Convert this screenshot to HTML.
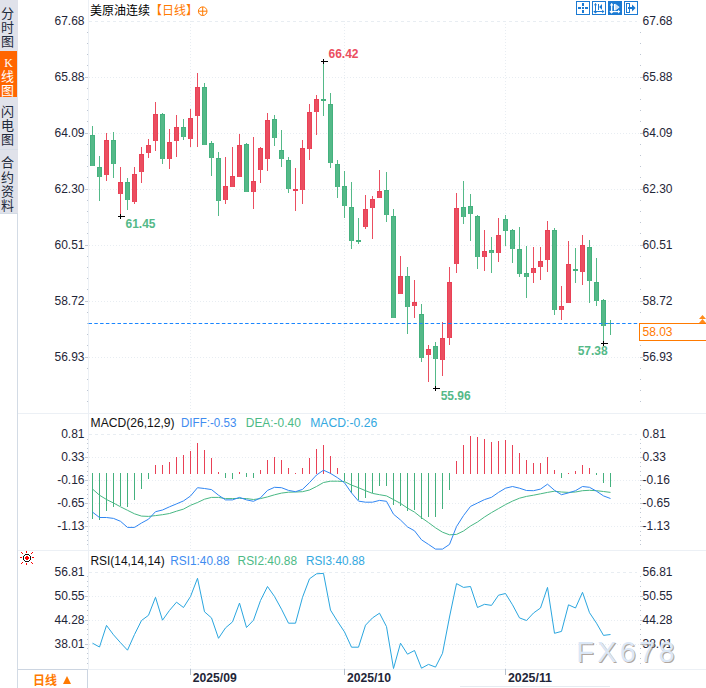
<!DOCTYPE html>
<html lang="zh-CN"><head><meta charset="utf-8"><title>美原油连续 日线</title>
<style>
html,body{margin:0;padding:0;background:#fff;}
body{width:706px;height:688px;position:relative;overflow:hidden;font-family:"Liberation Sans","Noto Sans CJK SC",sans-serif;font-size:12px;}
#side{position:absolute;left:0;top:0;width:18px;height:213px;background:#e0e2ea;border-bottom:1px solid #d3dbe5;}
#side .act{position:absolute;left:0;top:51px;width:17px;height:46px;background:#ff6600;}
#side .dv{position:absolute;left:0;width:18px;height:1px;background:#d6dde6;}
.sc{position:absolute;left:-1px;width:17px;height:14px;line-height:14px;text-align:center;font-size:13px;font-family:"Liberation Sans","Noto Sans CJK SC",sans-serif;}
.sf{font-family:"Liberation Serif","Noto Serif CJK SC",serif;font-size:12px;left:0;}
#title{position:absolute;left:90px;top:2px;height:18px;line-height:18px;font-size:12px;color:#000;white-space:nowrap;}
#title b{font-weight:normal;color:#ff7a00;}
#period{position:absolute;left:18px;top:670px;width:69px;height:18px;line-height:19px;font-size:12px;font-weight:bold;color:#ff7a00;white-space:nowrap;}
#period span{position:absolute;left:15px;top:2px;}
#period i{position:absolute;left:44.5px;top:5.7px;width:0;height:0;border-left:4.2px solid transparent;border-right:4.2px solid transparent;border-bottom:8px solid #ff7a00;}
</style></head><body>
<svg width="706" height="688" viewBox="0 0 706 688" style="position:absolute;left:0;top:0" font-family="'Liberation Sans', sans-serif" font-size="12">
<g shape-rendering="crispEdges">
<rect x="18" y="413" width="688" height="1" fill="#ecf0f5"/>
<rect x="18" y="550" width="688" height="1" fill="#ecf0f5"/>
<rect x="18" y="669" width="688" height="1" fill="#ecf0f5"/>
<rect x="17" y="213" width="1" height="475" fill="#d3dbe5"/>
<rect x="88" y="0" width="1" height="669" fill="#ecf0f5"/>
<rect x="18" y="669" width="70" height="1" fill="#ccd5e1"/>
<rect x="87" y="669" width="1" height="19" fill="#ccd5e1"/>
<rect x="460" y="686" width="150" height="1" fill="#e6ebf1"/>
</g>
<g stroke="#e8edf2" stroke-width="1" fill="none" shape-rendering="crispEdges">
<line x1="89" y1="21.5" x2="637" y2="21.5" stroke-dasharray="3 3"/>
<line x1="89" y1="434.5" x2="637" y2="434.5" stroke-dasharray="3 3"/>
<line x1="89" y1="572.5" x2="637" y2="572.5" stroke-dasharray="3 3"/>
<line x1="89" y1="77.5" x2="640" y2="77.5" stroke-dasharray="1 2"/>
<line x1="89" y1="133.5" x2="640" y2="133.5" stroke-dasharray="1 2"/>
<line x1="89" y1="189.5" x2="640" y2="189.5" stroke-dasharray="1 2"/>
<line x1="89" y1="245.5" x2="640" y2="245.5" stroke-dasharray="1 2"/>
<line x1="89" y1="301.5" x2="640" y2="301.5" stroke-dasharray="1 2"/>
<line x1="89" y1="357.5" x2="640" y2="357.5" stroke-dasharray="1 2"/>
<line x1="89" y1="457.5" x2="640" y2="457.5" stroke-dasharray="1 2"/>
<line x1="89" y1="480.5" x2="640" y2="480.5" stroke-dasharray="1 2"/>
<line x1="89" y1="503.5" x2="640" y2="503.5" stroke-dasharray="1 2"/>
<line x1="89" y1="526.5" x2="640" y2="526.5" stroke-dasharray="1 2"/>
<line x1="89" y1="596.5" x2="640" y2="596.5" stroke-dasharray="1 2"/>
<line x1="89" y1="620.5" x2="640" y2="620.5" stroke-dasharray="1 2"/>
<line x1="89" y1="644.5" x2="640" y2="644.5" stroke-dasharray="1 2"/>
<line x1="190.5" y1="21" x2="190.5" y2="413" stroke-dasharray="1 2"/>
<line x1="190.5" y1="434" x2="190.5" y2="550" stroke-dasharray="1 2"/>
<line x1="190.5" y1="572" x2="190.5" y2="669" stroke-dasharray="1 2"/>
<line x1="344.5" y1="21" x2="344.5" y2="413" stroke-dasharray="1 2"/>
<line x1="344.5" y1="434" x2="344.5" y2="550" stroke-dasharray="1 2"/>
<line x1="344.5" y1="572" x2="344.5" y2="669" stroke-dasharray="1 2"/>
<line x1="505.5" y1="21" x2="505.5" y2="413" stroke-dasharray="1 2"/>
<line x1="505.5" y1="434" x2="505.5" y2="550" stroke-dasharray="1 2"/>
<line x1="505.5" y1="572" x2="505.5" y2="669" stroke-dasharray="1 2"/>
</g>
<g fill="#bec6d2" shape-rendering="crispEdges">
<rect x="87" y="32" width="1" height="1"/>
<rect x="640" y="32" width="1" height="1"/>
<rect x="87" y="43" width="1" height="1"/>
<rect x="640" y="43" width="1" height="1"/>
<rect x="87" y="54" width="1" height="1"/>
<rect x="640" y="54" width="1" height="1"/>
<rect x="87" y="65" width="1" height="1"/>
<rect x="640" y="65" width="1" height="1"/>
<rect x="87" y="77" width="1" height="1"/>
<rect x="640" y="77" width="1" height="1"/>
<rect x="87" y="88" width="1" height="1"/>
<rect x="640" y="88" width="1" height="1"/>
<rect x="87" y="99" width="1" height="1"/>
<rect x="640" y="99" width="1" height="1"/>
<rect x="87" y="110" width="1" height="1"/>
<rect x="640" y="110" width="1" height="1"/>
<rect x="87" y="121" width="1" height="1"/>
<rect x="640" y="121" width="1" height="1"/>
<rect x="87" y="133" width="1" height="1"/>
<rect x="640" y="133" width="1" height="1"/>
<rect x="87" y="144" width="1" height="1"/>
<rect x="640" y="144" width="1" height="1"/>
<rect x="87" y="155" width="1" height="1"/>
<rect x="640" y="155" width="1" height="1"/>
<rect x="87" y="166" width="1" height="1"/>
<rect x="640" y="166" width="1" height="1"/>
<rect x="87" y="177" width="1" height="1"/>
<rect x="640" y="177" width="1" height="1"/>
<rect x="87" y="189" width="1" height="1"/>
<rect x="640" y="189" width="1" height="1"/>
<rect x="87" y="200" width="1" height="1"/>
<rect x="640" y="200" width="1" height="1"/>
<rect x="87" y="211" width="1" height="1"/>
<rect x="640" y="211" width="1" height="1"/>
<rect x="87" y="222" width="1" height="1"/>
<rect x="640" y="222" width="1" height="1"/>
<rect x="87" y="233" width="1" height="1"/>
<rect x="640" y="233" width="1" height="1"/>
<rect x="87" y="245" width="1" height="1"/>
<rect x="640" y="245" width="1" height="1"/>
<rect x="87" y="256" width="1" height="1"/>
<rect x="640" y="256" width="1" height="1"/>
<rect x="87" y="267" width="1" height="1"/>
<rect x="640" y="267" width="1" height="1"/>
<rect x="87" y="278" width="1" height="1"/>
<rect x="640" y="278" width="1" height="1"/>
<rect x="87" y="289" width="1" height="1"/>
<rect x="640" y="289" width="1" height="1"/>
<rect x="87" y="301" width="1" height="1"/>
<rect x="640" y="301" width="1" height="1"/>
<rect x="87" y="312" width="1" height="1"/>
<rect x="640" y="312" width="1" height="1"/>
<rect x="87" y="323" width="1" height="1"/>
<rect x="640" y="323" width="1" height="1"/>
<rect x="87" y="334" width="1" height="1"/>
<rect x="640" y="334" width="1" height="1"/>
<rect x="87" y="345" width="1" height="1"/>
<rect x="640" y="345" width="1" height="1"/>
<rect x="87" y="357" width="1" height="1"/>
<rect x="640" y="357" width="1" height="1"/>
<rect x="87" y="368" width="1" height="1"/>
<rect x="640" y="368" width="1" height="1"/>
<rect x="87" y="379" width="1" height="1"/>
<rect x="640" y="379" width="1" height="1"/>
<rect x="87" y="390" width="1" height="1"/>
<rect x="640" y="390" width="1" height="1"/>
<rect x="87" y="401" width="1" height="1"/>
<rect x="640" y="401" width="1" height="1"/>
<rect x="87" y="439" width="1" height="1"/>
<rect x="640" y="439" width="1" height="1"/>
<rect x="87" y="443" width="1" height="1"/>
<rect x="640" y="443" width="1" height="1"/>
<rect x="87" y="448" width="1" height="1"/>
<rect x="640" y="448" width="1" height="1"/>
<rect x="87" y="452" width="1" height="1"/>
<rect x="640" y="452" width="1" height="1"/>
<rect x="87" y="457" width="1" height="1"/>
<rect x="640" y="457" width="1" height="1"/>
<rect x="87" y="462" width="1" height="1"/>
<rect x="640" y="462" width="1" height="1"/>
<rect x="87" y="466" width="1" height="1"/>
<rect x="640" y="466" width="1" height="1"/>
<rect x="87" y="471" width="1" height="1"/>
<rect x="640" y="471" width="1" height="1"/>
<rect x="87" y="475" width="1" height="1"/>
<rect x="640" y="475" width="1" height="1"/>
<rect x="87" y="480" width="1" height="1"/>
<rect x="640" y="480" width="1" height="1"/>
<rect x="87" y="485" width="1" height="1"/>
<rect x="640" y="485" width="1" height="1"/>
<rect x="87" y="489" width="1" height="1"/>
<rect x="640" y="489" width="1" height="1"/>
<rect x="87" y="494" width="1" height="1"/>
<rect x="640" y="494" width="1" height="1"/>
<rect x="87" y="498" width="1" height="1"/>
<rect x="640" y="498" width="1" height="1"/>
<rect x="87" y="503" width="1" height="1"/>
<rect x="640" y="503" width="1" height="1"/>
<rect x="87" y="508" width="1" height="1"/>
<rect x="640" y="508" width="1" height="1"/>
<rect x="87" y="512" width="1" height="1"/>
<rect x="640" y="512" width="1" height="1"/>
<rect x="87" y="517" width="1" height="1"/>
<rect x="640" y="517" width="1" height="1"/>
<rect x="87" y="521" width="1" height="1"/>
<rect x="640" y="521" width="1" height="1"/>
<rect x="87" y="526" width="1" height="1"/>
<rect x="640" y="526" width="1" height="1"/>
<rect x="87" y="531" width="1" height="1"/>
<rect x="640" y="531" width="1" height="1"/>
<rect x="87" y="535" width="1" height="1"/>
<rect x="640" y="535" width="1" height="1"/>
<rect x="87" y="540" width="1" height="1"/>
<rect x="640" y="540" width="1" height="1"/>
<rect x="87" y="544" width="1" height="1"/>
<rect x="640" y="544" width="1" height="1"/>
<rect x="87" y="576" width="1" height="1"/>
<rect x="640" y="576" width="1" height="1"/>
<rect x="87" y="581" width="1" height="1"/>
<rect x="640" y="581" width="1" height="1"/>
<rect x="87" y="586" width="1" height="1"/>
<rect x="640" y="586" width="1" height="1"/>
<rect x="87" y="591" width="1" height="1"/>
<rect x="640" y="591" width="1" height="1"/>
<rect x="87" y="596" width="1" height="1"/>
<rect x="640" y="596" width="1" height="1"/>
<rect x="87" y="600" width="1" height="1"/>
<rect x="640" y="600" width="1" height="1"/>
<rect x="87" y="605" width="1" height="1"/>
<rect x="640" y="605" width="1" height="1"/>
<rect x="87" y="610" width="1" height="1"/>
<rect x="640" y="610" width="1" height="1"/>
<rect x="87" y="615" width="1" height="1"/>
<rect x="640" y="615" width="1" height="1"/>
<rect x="87" y="620" width="1" height="1"/>
<rect x="640" y="620" width="1" height="1"/>
<rect x="87" y="624" width="1" height="1"/>
<rect x="640" y="624" width="1" height="1"/>
<rect x="87" y="629" width="1" height="1"/>
<rect x="640" y="629" width="1" height="1"/>
<rect x="87" y="634" width="1" height="1"/>
<rect x="640" y="634" width="1" height="1"/>
<rect x="87" y="639" width="1" height="1"/>
<rect x="640" y="639" width="1" height="1"/>
<rect x="87" y="644" width="1" height="1"/>
<rect x="640" y="644" width="1" height="1"/>
<rect x="87" y="648" width="1" height="1"/>
<rect x="640" y="648" width="1" height="1"/>
<rect x="87" y="653" width="1" height="1"/>
<rect x="640" y="653" width="1" height="1"/>
<rect x="87" y="658" width="1" height="1"/>
<rect x="640" y="658" width="1" height="1"/>
<rect x="87" y="663" width="1" height="1"/>
<rect x="640" y="663" width="1" height="1"/>
<rect x="85" y="77" width="3" height="1" fill="#c4cad4"/>
<rect x="640" y="77" width="3" height="1" fill="#c4cad4"/>
<rect x="85" y="133" width="3" height="1" fill="#c4cad4"/>
<rect x="640" y="133" width="3" height="1" fill="#c4cad4"/>
<rect x="85" y="189" width="3" height="1" fill="#c4cad4"/>
<rect x="640" y="189" width="3" height="1" fill="#c4cad4"/>
<rect x="85" y="245" width="3" height="1" fill="#c4cad4"/>
<rect x="640" y="245" width="3" height="1" fill="#c4cad4"/>
<rect x="85" y="301" width="3" height="1" fill="#c4cad4"/>
<rect x="640" y="301" width="3" height="1" fill="#c4cad4"/>
<rect x="85" y="357" width="3" height="1" fill="#c4cad4"/>
<rect x="640" y="357" width="3" height="1" fill="#c4cad4"/>
<rect x="85" y="457" width="3" height="1" fill="#c4cad4"/>
<rect x="640" y="457" width="3" height="1" fill="#c4cad4"/>
<rect x="85" y="480" width="3" height="1" fill="#c4cad4"/>
<rect x="640" y="480" width="3" height="1" fill="#c4cad4"/>
<rect x="85" y="503" width="3" height="1" fill="#c4cad4"/>
<rect x="640" y="503" width="3" height="1" fill="#c4cad4"/>
<rect x="85" y="526" width="3" height="1" fill="#c4cad4"/>
<rect x="640" y="526" width="3" height="1" fill="#c4cad4"/>
<rect x="85" y="596" width="3" height="1" fill="#c4cad4"/>
<rect x="640" y="596" width="3" height="1" fill="#c4cad4"/>
<rect x="85" y="620" width="3" height="1" fill="#c4cad4"/>
<rect x="640" y="620" width="3" height="1" fill="#c4cad4"/>
<rect x="85" y="644" width="3" height="1" fill="#c4cad4"/>
<rect x="640" y="644" width="3" height="1" fill="#c4cad4"/>
<rect x="190" y="669" width="1" height="6" fill="#b4bfcd"/>
<rect x="344" y="669" width="1" height="6" fill="#b4bfcd"/>
<rect x="505" y="669" width="1" height="6" fill="#b4bfcd"/>
</g>
<g shape-rendering="crispEdges">
<rect x="92" y="126" width="1" height="40" fill="#54b988"/>
<rect x="90" y="135" width="5" height="31" fill="#44b17e"/>
<rect x="91" y="136" width="3" height="30" fill="#54b988"/>
<rect x="99" y="156" width="1" height="45" fill="#54b988"/>
<rect x="97" y="167" width="5" height="10" fill="#44b17e"/>
<rect x="98" y="168" width="3" height="9" fill="#54b988"/>
<rect x="106" y="133" width="1" height="48" fill="#eb4e60"/>
<rect x="104" y="140" width="5" height="35" fill="#e94156"/>
<rect x="105" y="141" width="3" height="34" fill="#eb4e60"/>
<rect x="113" y="132" width="1" height="46" fill="#54b988"/>
<rect x="111" y="140" width="5" height="24" fill="#44b17e"/>
<rect x="112" y="141" width="3" height="23" fill="#54b988"/>
<rect x="120" y="167" width="1" height="49" fill="#eb4e60"/>
<rect x="118" y="182" width="5" height="12" fill="#e94156"/>
<rect x="119" y="183" width="3" height="11" fill="#eb4e60"/>
<rect x="127" y="178" width="1" height="32" fill="#54b988"/>
<rect x="125" y="182" width="5" height="18" fill="#44b17e"/>
<rect x="126" y="183" width="3" height="17" fill="#54b988"/>
<rect x="134" y="167" width="1" height="37" fill="#eb4e60"/>
<rect x="132" y="174" width="5" height="28" fill="#e94156"/>
<rect x="133" y="175" width="3" height="27" fill="#eb4e60"/>
<rect x="141" y="147" width="1" height="36" fill="#eb4e60"/>
<rect x="139" y="154" width="5" height="18" fill="#e94156"/>
<rect x="140" y="155" width="3" height="17" fill="#eb4e60"/>
<rect x="148" y="139" width="1" height="19" fill="#eb4e60"/>
<rect x="146" y="145" width="5" height="8" fill="#e94156"/>
<rect x="147" y="146" width="3" height="7" fill="#eb4e60"/>
<rect x="155" y="102" width="1" height="49" fill="#eb4e60"/>
<rect x="153" y="114" width="5" height="27" fill="#e94156"/>
<rect x="154" y="115" width="3" height="26" fill="#eb4e60"/>
<rect x="162" y="113" width="1" height="51" fill="#54b988"/>
<rect x="160" y="114" width="5" height="45" fill="#44b17e"/>
<rect x="161" y="115" width="3" height="44" fill="#54b988"/>
<rect x="169" y="129" width="1" height="40" fill="#eb4e60"/>
<rect x="167" y="142" width="5" height="17" fill="#e94156"/>
<rect x="168" y="143" width="3" height="16" fill="#eb4e60"/>
<rect x="176" y="115" width="1" height="42" fill="#eb4e60"/>
<rect x="174" y="127" width="5" height="14" fill="#e94156"/>
<rect x="175" y="128" width="3" height="13" fill="#eb4e60"/>
<rect x="183" y="119" width="1" height="21" fill="#54b988"/>
<rect x="181" y="127" width="5" height="10" fill="#44b17e"/>
<rect x="182" y="128" width="3" height="9" fill="#54b988"/>
<rect x="190" y="109" width="1" height="38" fill="#eb4e60"/>
<rect x="188" y="118" width="5" height="21" fill="#e94156"/>
<rect x="189" y="119" width="3" height="20" fill="#eb4e60"/>
<rect x="197" y="73" width="1" height="74" fill="#eb4e60"/>
<rect x="195" y="87" width="5" height="29" fill="#e94156"/>
<rect x="196" y="88" width="3" height="28" fill="#eb4e60"/>
<rect x="204" y="83" width="1" height="62" fill="#54b988"/>
<rect x="202" y="87" width="5" height="58" fill="#44b17e"/>
<rect x="203" y="88" width="3" height="57" fill="#54b988"/>
<rect x="211" y="141" width="1" height="35" fill="#54b988"/>
<rect x="209" y="143" width="5" height="15" fill="#44b17e"/>
<rect x="210" y="144" width="3" height="14" fill="#54b988"/>
<rect x="218" y="152" width="1" height="64" fill="#54b988"/>
<rect x="216" y="158" width="5" height="43" fill="#44b17e"/>
<rect x="217" y="159" width="3" height="42" fill="#54b988"/>
<rect x="225" y="157" width="1" height="47" fill="#eb4e60"/>
<rect x="223" y="186" width="5" height="14" fill="#e94156"/>
<rect x="224" y="187" width="3" height="13" fill="#eb4e60"/>
<rect x="232" y="147" width="1" height="40" fill="#eb4e60"/>
<rect x="230" y="176" width="5" height="11" fill="#e94156"/>
<rect x="231" y="177" width="3" height="10" fill="#eb4e60"/>
<rect x="239" y="134" width="1" height="43" fill="#eb4e60"/>
<rect x="237" y="145" width="5" height="32" fill="#e94156"/>
<rect x="238" y="146" width="3" height="31" fill="#eb4e60"/>
<rect x="246" y="143" width="1" height="49" fill="#54b988"/>
<rect x="244" y="144" width="5" height="48" fill="#44b17e"/>
<rect x="245" y="145" width="3" height="47" fill="#54b988"/>
<rect x="253" y="137" width="1" height="72" fill="#eb4e60"/>
<rect x="251" y="181" width="5" height="11" fill="#e94156"/>
<rect x="252" y="182" width="3" height="10" fill="#eb4e60"/>
<rect x="260" y="147" width="1" height="36" fill="#eb4e60"/>
<rect x="258" y="148" width="5" height="22" fill="#e94156"/>
<rect x="259" y="149" width="3" height="21" fill="#eb4e60"/>
<rect x="267" y="113" width="1" height="58" fill="#eb4e60"/>
<rect x="265" y="120" width="5" height="39" fill="#e94156"/>
<rect x="266" y="121" width="3" height="38" fill="#eb4e60"/>
<rect x="274" y="115" width="1" height="31" fill="#54b988"/>
<rect x="272" y="119" width="5" height="19" fill="#44b17e"/>
<rect x="273" y="120" width="3" height="18" fill="#54b988"/>
<rect x="281" y="130" width="1" height="37" fill="#54b988"/>
<rect x="279" y="150" width="5" height="9" fill="#44b17e"/>
<rect x="280" y="151" width="3" height="8" fill="#54b988"/>
<rect x="288" y="157" width="1" height="36" fill="#54b988"/>
<rect x="286" y="160" width="5" height="29" fill="#44b17e"/>
<rect x="287" y="161" width="3" height="28" fill="#54b988"/>
<rect x="295" y="168" width="1" height="43" fill="#eb4e60"/>
<rect x="293" y="189" width="5" height="2" fill="#e94156"/>
<rect x="302" y="140" width="1" height="64" fill="#eb4e60"/>
<rect x="300" y="148" width="5" height="42" fill="#e94156"/>
<rect x="301" y="149" width="3" height="41" fill="#eb4e60"/>
<rect x="309" y="104" width="1" height="56" fill="#eb4e60"/>
<rect x="307" y="112" width="5" height="37" fill="#e94156"/>
<rect x="308" y="113" width="3" height="36" fill="#eb4e60"/>
<rect x="316" y="95" width="1" height="40" fill="#eb4e60"/>
<rect x="314" y="99" width="5" height="13" fill="#e94156"/>
<rect x="315" y="100" width="3" height="12" fill="#eb4e60"/>
<rect x="323" y="61" width="1" height="55" fill="#54b988"/>
<rect x="321" y="99" width="5" height="2" fill="#44b17e"/>
<rect x="330" y="93" width="1" height="75" fill="#54b988"/>
<rect x="328" y="104" width="5" height="59" fill="#44b17e"/>
<rect x="329" y="105" width="3" height="58" fill="#54b988"/>
<rect x="337" y="160" width="1" height="38" fill="#54b988"/>
<rect x="335" y="164" width="5" height="23" fill="#44b17e"/>
<rect x="336" y="165" width="3" height="22" fill="#54b988"/>
<rect x="344" y="171" width="1" height="47" fill="#54b988"/>
<rect x="342" y="186" width="5" height="20" fill="#44b17e"/>
<rect x="343" y="187" width="3" height="19" fill="#54b988"/>
<rect x="351" y="182" width="1" height="67" fill="#54b988"/>
<rect x="349" y="207" width="5" height="34" fill="#44b17e"/>
<rect x="350" y="208" width="3" height="33" fill="#54b988"/>
<rect x="358" y="218" width="1" height="26" fill="#54b988"/>
<rect x="356" y="240" width="5" height="2" fill="#44b17e"/>
<rect x="365" y="195" width="1" height="34" fill="#eb4e60"/>
<rect x="363" y="209" width="5" height="18" fill="#e94156"/>
<rect x="364" y="210" width="3" height="17" fill="#eb4e60"/>
<rect x="372" y="196" width="1" height="43" fill="#eb4e60"/>
<rect x="370" y="199" width="5" height="9" fill="#e94156"/>
<rect x="371" y="200" width="3" height="8" fill="#eb4e60"/>
<rect x="379" y="170" width="1" height="28" fill="#eb4e60"/>
<rect x="377" y="191" width="5" height="7" fill="#e94156"/>
<rect x="378" y="192" width="3" height="6" fill="#eb4e60"/>
<rect x="386" y="172" width="1" height="50" fill="#54b988"/>
<rect x="384" y="190" width="5" height="25" fill="#44b17e"/>
<rect x="385" y="191" width="3" height="24" fill="#54b988"/>
<rect x="393" y="209" width="1" height="109" fill="#54b988"/>
<rect x="391" y="216" width="5" height="102" fill="#44b17e"/>
<rect x="392" y="217" width="3" height="101" fill="#54b988"/>
<rect x="400" y="256" width="1" height="38" fill="#eb4e60"/>
<rect x="398" y="276" width="5" height="18" fill="#e94156"/>
<rect x="399" y="277" width="3" height="17" fill="#eb4e60"/>
<rect x="407" y="267" width="1" height="67" fill="#54b988"/>
<rect x="405" y="276" width="5" height="31" fill="#44b17e"/>
<rect x="406" y="277" width="3" height="30" fill="#54b988"/>
<rect x="414" y="280" width="1" height="38" fill="#eb4e60"/>
<rect x="412" y="302" width="5" height="4" fill="#e94156"/>
<rect x="413" y="303" width="3" height="3" fill="#eb4e60"/>
<rect x="421" y="304" width="1" height="58" fill="#54b988"/>
<rect x="419" y="314" width="5" height="44" fill="#44b17e"/>
<rect x="420" y="315" width="3" height="43" fill="#54b988"/>
<rect x="428" y="345" width="1" height="37" fill="#eb4e60"/>
<rect x="426" y="349" width="5" height="6" fill="#e94156"/>
<rect x="427" y="350" width="3" height="5" fill="#eb4e60"/>
<rect x="435" y="342" width="1" height="46" fill="#54b988"/>
<rect x="433" y="346" width="5" height="13" fill="#44b17e"/>
<rect x="434" y="347" width="3" height="12" fill="#54b988"/>
<rect x="442" y="322" width="1" height="54" fill="#eb4e60"/>
<rect x="440" y="338" width="5" height="22" fill="#e94156"/>
<rect x="441" y="339" width="3" height="21" fill="#eb4e60"/>
<rect x="449" y="267" width="1" height="78" fill="#eb4e60"/>
<rect x="447" y="282" width="5" height="56" fill="#e94156"/>
<rect x="448" y="283" width="3" height="55" fill="#eb4e60"/>
<rect x="456" y="193" width="1" height="80" fill="#eb4e60"/>
<rect x="454" y="208" width="5" height="56" fill="#e94156"/>
<rect x="455" y="209" width="3" height="55" fill="#eb4e60"/>
<rect x="463" y="181" width="1" height="43" fill="#54b988"/>
<rect x="461" y="207" width="5" height="10" fill="#44b17e"/>
<rect x="462" y="208" width="3" height="9" fill="#54b988"/>
<rect x="470" y="194" width="1" height="47" fill="#54b988"/>
<rect x="468" y="206" width="5" height="8" fill="#44b17e"/>
<rect x="469" y="207" width="3" height="7" fill="#54b988"/>
<rect x="477" y="215" width="1" height="54" fill="#54b988"/>
<rect x="475" y="216" width="5" height="41" fill="#44b17e"/>
<rect x="476" y="217" width="3" height="40" fill="#54b988"/>
<rect x="484" y="230" width="1" height="41" fill="#eb4e60"/>
<rect x="482" y="251" width="5" height="6" fill="#e94156"/>
<rect x="483" y="252" width="3" height="5" fill="#eb4e60"/>
<rect x="491" y="237" width="1" height="36" fill="#54b988"/>
<rect x="489" y="250" width="5" height="3" fill="#44b17e"/>
<rect x="490" y="251" width="3" height="2" fill="#54b988"/>
<rect x="498" y="218" width="1" height="44" fill="#eb4e60"/>
<rect x="496" y="235" width="5" height="18" fill="#e94156"/>
<rect x="497" y="236" width="3" height="17" fill="#eb4e60"/>
<rect x="505" y="215" width="1" height="31" fill="#54b988"/>
<rect x="503" y="219" width="5" height="12" fill="#44b17e"/>
<rect x="504" y="220" width="3" height="11" fill="#54b988"/>
<rect x="512" y="229" width="1" height="34" fill="#54b988"/>
<rect x="510" y="230" width="5" height="19" fill="#44b17e"/>
<rect x="511" y="231" width="3" height="18" fill="#54b988"/>
<rect x="519" y="227" width="1" height="50" fill="#54b988"/>
<rect x="517" y="249" width="5" height="25" fill="#44b17e"/>
<rect x="518" y="250" width="3" height="24" fill="#54b988"/>
<rect x="526" y="246" width="1" height="52" fill="#54b988"/>
<rect x="524" y="273" width="5" height="4" fill="#44b17e"/>
<rect x="525" y="274" width="3" height="3" fill="#54b988"/>
<rect x="533" y="247" width="1" height="36" fill="#eb4e60"/>
<rect x="531" y="268" width="5" height="5" fill="#e94156"/>
<rect x="532" y="269" width="3" height="4" fill="#eb4e60"/>
<rect x="540" y="247" width="1" height="33" fill="#eb4e60"/>
<rect x="538" y="261" width="5" height="6" fill="#e94156"/>
<rect x="539" y="262" width="3" height="5" fill="#eb4e60"/>
<rect x="547" y="221" width="1" height="51" fill="#eb4e60"/>
<rect x="545" y="230" width="5" height="30" fill="#e94156"/>
<rect x="546" y="231" width="3" height="29" fill="#eb4e60"/>
<rect x="554" y="228" width="1" height="87" fill="#54b988"/>
<rect x="552" y="230" width="5" height="80" fill="#44b17e"/>
<rect x="553" y="231" width="3" height="79" fill="#54b988"/>
<rect x="561" y="286" width="1" height="34" fill="#eb4e60"/>
<rect x="559" y="306" width="5" height="4" fill="#e94156"/>
<rect x="560" y="307" width="3" height="3" fill="#eb4e60"/>
<rect x="568" y="241" width="1" height="62" fill="#eb4e60"/>
<rect x="566" y="264" width="5" height="39" fill="#e94156"/>
<rect x="567" y="265" width="3" height="38" fill="#eb4e60"/>
<rect x="575" y="248" width="1" height="35" fill="#54b988"/>
<rect x="573" y="269" width="5" height="2" fill="#44b17e"/>
<rect x="582" y="235" width="1" height="50" fill="#eb4e60"/>
<rect x="580" y="245" width="5" height="27" fill="#e94156"/>
<rect x="581" y="246" width="3" height="26" fill="#eb4e60"/>
<rect x="589" y="240" width="1" height="63" fill="#54b988"/>
<rect x="587" y="247" width="5" height="34" fill="#44b17e"/>
<rect x="588" y="248" width="3" height="33" fill="#54b988"/>
<rect x="596" y="258" width="1" height="48" fill="#54b988"/>
<rect x="594" y="282" width="5" height="19" fill="#44b17e"/>
<rect x="595" y="283" width="3" height="18" fill="#54b988"/>
<rect x="603" y="299" width="1" height="43" fill="#54b988"/>
<rect x="601" y="300" width="5" height="26" fill="#44b17e"/>
<rect x="602" y="301" width="3" height="25" fill="#54b988"/>
<rect x="610" y="320" width="1" height="15" fill="#54b988"/>
<rect x="608" y="323" width="5" height="1" fill="#44b17e"/>
</g>
<line x1="88.5" y1="323.5" x2="639" y2="323.5" stroke="#1a86ff" stroke-width="1" stroke-dasharray="3.5 2.3"/>
<g fill="#000" shape-rendering="crispEdges"><rect x="118" y="216" width="7" height="1"/><rect x="120" y="214" width="1" height="5"/></g>
<g fill="#000" shape-rendering="crispEdges"><rect x="321" y="61" width="7" height="1"/><rect x="323" y="59" width="1" height="5"/></g>
<g fill="#000" shape-rendering="crispEdges"><rect x="433" y="388" width="7" height="1"/><rect x="435" y="386" width="1" height="5"/></g>
<g fill="#000" shape-rendering="crispEdges"><rect x="601" y="343" width="7" height="1"/><rect x="603" y="341" width="1" height="5"/></g>
<g font-weight="bold">
<text x="125.5" y="228" fill="#54b988">61.45</text>
<text x="328.5" y="58" fill="#eb4e60">66.42</text>
<text x="440.7" y="400" fill="#54b988">55.96</text>
<text x="577.7" y="355" fill="#54b988">57.38</text>
</g>
<g shape-rendering="crispEdges">
<rect x="92" y="473" width="1" height="45.7" fill="#44b17e"/>
<rect x="99" y="473" width="1" height="46.6" fill="#44b17e"/>
<rect x="106" y="473" width="1" height="37.5" fill="#44b17e"/>
<rect x="113" y="473" width="1" height="33.8" fill="#44b17e"/>
<rect x="120" y="473" width="1" height="32.6" fill="#44b17e"/>
<rect x="127" y="473" width="1" height="33.8" fill="#44b17e"/>
<rect x="134" y="473" width="1" height="26.5" fill="#44b17e"/>
<rect x="141" y="473" width="1" height="15.7" fill="#44b17e"/>
<rect x="148" y="473" width="1" height="5.6" fill="#44b17e"/>
<rect x="155" y="465" width="1" height="9" fill="#e94156"/>
<rect x="162" y="465" width="1" height="9" fill="#e94156"/>
<rect x="169" y="462" width="1" height="12" fill="#e94156"/>
<rect x="176" y="457.1" width="1" height="16.9" fill="#e94156"/>
<rect x="183" y="455" width="1" height="19" fill="#e94156"/>
<rect x="190" y="451" width="1" height="23" fill="#e94156"/>
<rect x="197" y="443.2" width="1" height="30.8" fill="#e94156"/>
<rect x="204" y="450.2" width="1" height="23.8" fill="#e94156"/>
<rect x="211" y="458" width="1" height="16" fill="#e94156"/>
<rect x="218" y="472" width="1" height="2" fill="#e94156"/>
<rect x="225" y="473" width="1" height="4.7" fill="#44b17e"/>
<rect x="232" y="473" width="1" height="5.6" fill="#44b17e"/>
<rect x="239" y="472" width="1" height="2" fill="#e94156"/>
<rect x="246" y="473" width="1" height="3.8" fill="#44b17e"/>
<rect x="253" y="473" width="1" height="4.7" fill="#44b17e"/>
<rect x="260" y="469.9" width="1" height="4.1" fill="#e94156"/>
<rect x="267" y="459.9" width="1" height="14.1" fill="#e94156"/>
<rect x="274" y="456.8" width="1" height="17.2" fill="#e94156"/>
<rect x="281" y="459.9" width="1" height="14.1" fill="#e94156"/>
<rect x="288" y="468.1" width="1" height="5.9" fill="#e94156"/>
<rect x="295" y="472.5" width="1" height="1.5" fill="#e94156"/>
<rect x="302" y="468.1" width="1" height="5.9" fill="#e94156"/>
<rect x="309" y="458" width="1" height="16" fill="#e94156"/>
<rect x="316" y="449" width="1" height="25" fill="#e94156"/>
<rect x="323" y="445" width="1" height="29" fill="#e94156"/>
<rect x="330" y="456" width="1" height="18" fill="#e94156"/>
<rect x="337" y="468" width="1" height="6" fill="#e94156"/>
<rect x="344" y="473" width="1" height="7.7" fill="#44b17e"/>
<rect x="351" y="473" width="1" height="20.4" fill="#44b17e"/>
<rect x="358" y="473" width="1" height="27.4" fill="#44b17e"/>
<rect x="365" y="473" width="1" height="24.6" fill="#44b17e"/>
<rect x="372" y="473" width="1" height="19.9" fill="#44b17e"/>
<rect x="379" y="473" width="1" height="12.6" fill="#44b17e"/>
<rect x="386" y="473" width="1" height="12.6" fill="#44b17e"/>
<rect x="393" y="473" width="1" height="31.6" fill="#44b17e"/>
<rect x="400" y="473" width="1" height="32.7" fill="#44b17e"/>
<rect x="407" y="473" width="1" height="37.7" fill="#44b17e"/>
<rect x="414" y="473" width="1" height="36.8" fill="#44b17e"/>
<rect x="421" y="473" width="1" height="45.8" fill="#44b17e"/>
<rect x="428" y="473" width="1" height="44.3" fill="#44b17e"/>
<rect x="435" y="473" width="1" height="43.5" fill="#44b17e"/>
<rect x="442" y="473" width="1" height="35.6" fill="#44b17e"/>
<rect x="449" y="473" width="1" height="16.8" fill="#44b17e"/>
<rect x="456" y="461" width="1" height="13" fill="#e94156"/>
<rect x="463" y="445" width="1" height="29" fill="#e94156"/>
<rect x="470" y="435.5" width="1" height="38.5" fill="#e94156"/>
<rect x="477" y="436.8" width="1" height="37.2" fill="#e94156"/>
<rect x="484" y="438.8" width="1" height="35.2" fill="#e94156"/>
<rect x="491" y="442" width="1" height="32" fill="#e94156"/>
<rect x="498" y="441" width="1" height="33" fill="#e94156"/>
<rect x="505" y="440" width="1" height="34" fill="#e94156"/>
<rect x="512" y="445" width="1" height="29" fill="#e94156"/>
<rect x="519" y="452.8" width="1" height="21.2" fill="#e94156"/>
<rect x="526" y="459.8" width="1" height="14.2" fill="#e94156"/>
<rect x="533" y="462.9" width="1" height="11.1" fill="#e94156"/>
<rect x="540" y="462.9" width="1" height="11.1" fill="#e94156"/>
<rect x="547" y="456.8" width="1" height="17.2" fill="#e94156"/>
<rect x="554" y="470.2" width="1" height="3.8" fill="#e94156"/>
<rect x="561" y="473" width="1" height="4.6" fill="#44b17e"/>
<rect x="568" y="472.5" width="1" height="1.5" fill="#e94156"/>
<rect x="575" y="471.1" width="1" height="2.9" fill="#e94156"/>
<rect x="582" y="465" width="1" height="9" fill="#e94156"/>
<rect x="589" y="468" width="1" height="6" fill="#e94156"/>
<rect x="596" y="473" width="1" height="1.8" fill="#44b17e"/>
<rect x="603" y="473" width="1" height="9.8" fill="#44b17e"/>
<rect x="610" y="473" width="1" height="13.8" fill="#44b17e"/>
</g>
<polyline points="92.5,489 99.5,495.2 106.5,499.5 113.5,503 120.5,506.8 127.5,510.3 134.5,513.8 141.5,516.1 148.5,516.4 155.5,515.6 162.5,514.7 169.5,513.5 176.5,511.2 183.5,509.1 190.5,505.3 197.5,502.5 204.5,499.2 211.5,497.4 218.5,497.4 225.5,498.6 232.5,498.6 239.5,498.3 246.5,498.6 253.5,499.5 260.5,498.6 267.5,496.9 274.5,494.8 281.5,493.1 288.5,492.2 295.5,492 302.5,491.7 309.5,490 316.5,486.5 323.5,482.5 330.5,481.2 337.5,481.2 344.5,481.6 351.5,485.1 358.5,487.7 365.5,490.7 372.5,493.4 379.5,494.7 386.5,495.9 393.5,499.6 400.5,503.4 407.5,508.1 414.5,512.1 421.5,517.7 428.5,522.6 435.5,527.8 442.5,532.2 449.5,534.8 456.5,534.4 463.5,531 470.5,526 477.5,522 484.5,517 491.5,512.6 498.5,508.6 505.5,504.6 512.5,501.1 519.5,498.2 526.5,496.4 533.5,495.2 540.5,493.8 547.5,492.4 554.5,491.2 561.5,492 568.5,492.4 575.5,492 582.5,490.7 589.5,490.3 596.5,490.7 603.5,491.5 610.5,492.4" fill="none" stroke="#48b884" stroke-width="1.0" stroke-linejoin="round"/>
<polyline points="92.5,512.1 99.5,517.5 106.5,517.5 113.5,518.4 120.5,521.3 127.5,527.4 134.5,527.4 141.5,523 148.5,519.2 155.5,511.7 162.5,510 169.5,506.8 176.5,503.9 183.5,500.9 190.5,496 197.5,487.7 204.5,488.5 211.5,489.6 218.5,495.2 225.5,499.9 232.5,499.9 239.5,497.4 246.5,499.9 253.5,501.3 260.5,497.8 267.5,490.4 274.5,487.3 281.5,487.7 288.5,490.4 295.5,491.7 302.5,489.4 309.5,482.6 316.5,475 323.5,470.2 330.5,473.4 337.5,477.7 344.5,482.8 351.5,492.9 358.5,501.1 365.5,502.2 372.5,502.2 379.5,500.4 386.5,501.3 393.5,514.2 400.5,520 407.5,526.9 414.5,530.8 421.5,539.8 428.5,544.4 435.5,549.1 442.5,549.1 449.5,544.4 456.5,526.6 463.5,515.6 470.5,506.4 477.5,503 484.5,499.6 491.5,497.3 498.5,492.4 505.5,488.2 512.5,486.5 519.5,488.2 526.5,490.5 533.5,490.7 540.5,489.1 547.5,484.2 554.5,490.3 561.5,494.7 568.5,492.9 575.5,490.7 582.5,486.5 589.5,487.3 596.5,491.2 603.5,495.9 610.5,498.5" fill="none" stroke="#2f86f3" stroke-width="1.0" stroke-linejoin="round"/>
<clipPath id="rc"><rect x="88" y="551" width="552" height="118"/></clipPath><g clip-path="url(#rc)">
<polyline points="92.5,643.2 99.5,647 106.5,625.4 113.5,634.8 120.5,642.7 127.5,650.2 134.5,634.5 141.5,620.5 148.5,615.3 155.5,597.3 162.5,620.2 169.5,610.4 176.5,602.2 183.5,607.5 190.5,596.5 197.5,578.3 204.5,611.8 211.5,617.9 218.5,638.3 225.5,627.9 232.5,621.9 239.5,603.1 246.5,627.5 253.5,620.2 260.5,600.5 267.5,586.5 274.5,596.5 281.5,609.2 288.5,623.2 295.5,623.2 302.5,597.3 309.5,578.8 316.5,573.8 323.5,573.4 330.5,610.1 337.5,621.4 344.5,631.9 351.5,647.2 358.5,647.2 365.5,625.2 372.5,617.9 379.5,613.2 386.5,626.6 393.5,668.5 400.5,643.2 407.5,654.2 414.5,650.5 421.5,668.2 428.5,664.4 435.5,667.1 442.5,653.3 449.5,617 456.5,583.6 463.5,587.4 470.5,586.5 477.5,607.5 484.5,604.3 491.5,605.4 498.5,595.2 505.5,593.5 512.5,604.8 519.5,617.9 526.5,620.5 533.5,613 540.5,608 547.5,587.4 554.5,633.3 561.5,631.4 568.5,604.8 575.5,608 582.5,592.3 589.5,612.7 596.5,623.2 603.5,635.4 610.5,634.5" fill="none" stroke="#2aa6df" stroke-width="1.0" stroke-linejoin="round"/>
</g>
<g fill="#1f2638">
<text x="84.5" y="24.5" text-anchor="end">67.68</text>
<text x="642.5" y="24.5">67.68</text>
<text x="84.5" y="80.5" text-anchor="end">65.88</text>
<text x="642.5" y="80.5">65.88</text>
<text x="84.5" y="136.5" text-anchor="end">64.09</text>
<text x="642.5" y="136.5">64.09</text>
<text x="84.5" y="192.5" text-anchor="end">62.30</text>
<text x="642.5" y="192.5">62.30</text>
<text x="84.5" y="248.5" text-anchor="end">60.51</text>
<text x="642.5" y="248.5">60.51</text>
<text x="84.5" y="304.5" text-anchor="end">58.72</text>
<text x="642.5" y="304.5">58.72</text>
<text x="84.5" y="360.5" text-anchor="end">56.93</text>
<text x="642.5" y="360.5">56.93</text>
<text x="84.5" y="437.5" text-anchor="end">0.81</text>
<text x="642.5" y="437.5">0.81</text>
<text x="84.5" y="460.5" text-anchor="end">0.33</text>
<text x="642.5" y="460.5">0.33</text>
<text x="84.5" y="483.5" text-anchor="end">-0.16</text>
<text x="642.5" y="483.5">-0.16</text>
<text x="84.5" y="506.5" text-anchor="end">-0.65</text>
<text x="642.5" y="506.5">-0.65</text>
<text x="84.5" y="529.5" text-anchor="end">-1.13</text>
<text x="642.5" y="529.5">-1.13</text>
<text x="84.5" y="575.5" text-anchor="end">56.81</text>
<text x="642.5" y="575.5">56.81</text>
<text x="84.5" y="599.5" text-anchor="end">50.55</text>
<text x="642.5" y="599.5">50.55</text>
<text x="84.5" y="623.5" text-anchor="end">44.28</text>
<text x="642.5" y="623.5">44.28</text>
<text x="84.5" y="647.5" text-anchor="end">38.01</text>
<text x="642.5" y="647.5">38.01</text>
</g>
<rect x="639.5" y="323.5" width="70" height="17" fill="#fff" stroke="#ff7a00" stroke-width="1" shape-rendering="crispEdges"/>
<text x="642.5" y="336" fill="#ff7a00">58.03</text>
<path d="M699 319 L702.5 315 L706 319 Z M699 323 L702.5 319 L706 323 Z" fill="#ff8a1a"/>
<text x="90.6" y="427" fill="#111" textLength="84" lengthAdjust="spacingAndGlyphs">MACD(26,12,9)</text>
<text x="181" y="427" fill="#3f8cf0" textLength="55.4" lengthAdjust="spacingAndGlyphs">DIFF:-0.53</text>
<text x="245.8" y="427" fill="#4dba86" textLength="55" lengthAdjust="spacingAndGlyphs">DEA:-0.40</text>
<text x="310.2" y="427" fill="#33a8e0" textLength="67" lengthAdjust="spacingAndGlyphs">MACD:-0.26</text>
<text x="90.4" y="565" fill="#111" textLength="74.3" lengthAdjust="spacingAndGlyphs">RSI(14,14,14)</text>
<text x="170.2" y="565" fill="#3f8cf0" textLength="59.3" lengthAdjust="spacingAndGlyphs">RSI1:40.88</text>
<text x="237.6" y="565" fill="#4dba86" textLength="59.5" lengthAdjust="spacingAndGlyphs">RSI2:40.88</text>
<text x="306" y="565" fill="#33a8e0" textLength="58.8" lengthAdjust="spacingAndGlyphs">RSI3:40.88</text>
<g font-weight="bold" fill="#1f2638">
<text x="192.7" y="682.4" textLength="44" lengthAdjust="spacingAndGlyphs">2025/09</text>
<text x="347" y="682.4" textLength="44" lengthAdjust="spacingAndGlyphs">2025/10</text>
<text x="508" y="682.4" textLength="44" lengthAdjust="spacingAndGlyphs">2025/11</text>
</g>
<g shape-rendering="crispEdges">
<g fill="#f00">
<rect x="26" y="551" width="1" height="2"/>
<rect x="26" y="563" width="1" height="2"/>
<rect x="20" y="557" width="2" height="1"/>
<rect x="32" y="557" width="2" height="1"/>
<rect x="21" y="552" width="1" height="1"/>
<rect x="22" y="553" width="1" height="1"/>
<rect x="32" y="552" width="1" height="1"/>
<rect x="31" y="553" width="1" height="1"/>
<rect x="21" y="563" width="1" height="1"/>
<rect x="22" y="562" width="1" height="1"/>
<rect x="32" y="563" width="1" height="1"/>
<rect x="31" y="562" width="1" height="1"/>
<rect x="26" y="556" width="2" height="4"/>
<rect x="25" y="557" width="4" height="2"/>
</g><g fill="#111">
<rect x="25" y="554" width="4" height="1"/>
<rect x="25" y="561" width="4" height="1"/>
<rect x="23" y="556" width="1" height="4"/>
<rect x="30" y="556" width="1" height="4"/>
<rect x="24" y="555" width="1" height="1"/>
<rect x="29" y="555" width="1" height="1"/>
<rect x="24" y="560" width="1" height="1"/>
<rect x="29" y="560" width="1" height="1"/>
</g></g>
<g stroke="#ff7a00" stroke-width="1" fill="none"><circle cx="202.7" cy="11.2" r="4.3"/><path d="M198.4 11.2H207M202.7 6.9V15.5"/></g>
<g shape-rendering="crispEdges">
<rect x="576.5" y="1.5" width="13" height="13" fill="#fff" stroke="#1b7ad3"/>
<g fill="#1b7ad3"><rect x="582" y="3" width="2" height="3"/><rect x="582" y="7" width="2" height="2"/><rect x="582" y="10" width="2" height="3"/><rect x="578" y="7" width="3" height="2"/><rect x="585" y="7" width="3" height="2"/></g>
<rect x="592.5" y="1.5" width="13" height="13" fill="#fff" stroke="#1b7ad3"/>
</g>
<g fill="#1b7ad3"><rect x="595" y="3.6" width="1" height="9.4"/><path d="M593.9 5.3 L595.5 3 L597.1 5.3Z"/><path d="M594 11.9 L595.5 13.6 L597 11.9Z"/><rect x="594" y="11" width="9.6" height="1"/><path d="M602.2 9.8 L604.4 11.5 L602.2 13.2Z"/><path d="M593.3 11.5 L594.6 10.4 V12.6Z"/><rect x="598" y="4" width="1" height="6"/><path d="M599.2 6.9 L602 4 V9.8Z"/></g>
<rect x="608" y="1" width="14" height="14" fill="#1b7ad3" shape-rendering="crispEdges"/>
<g fill="#fff"><rect x="611" y="3.6" width="1.3" height="9.4"/><path d="M609.8 5.4 L611.65 3 L613.5 5.4Z"/><rect x="610" y="11" width="9.4" height="1.2"/><path d="M618 9.7 L620.3 11.6 L618 13.5Z"/><path d="M609.4 11.6 L610.8 10.4 V12.8Z"/><path d="M610.2 12 L611.65 13.7 L613.1 12Z"/><rect x="614" y="4" width="1" height="6.4"/><path d="M615.4 4.3 L619.2 7.2 L615.4 10.1Z" fill="#c5dcf3" stroke="#fff" stroke-width="0.7" stroke-linejoin="round"/></g>
<rect x="624.5" y="1.5" width="13" height="13" fill="#fff" stroke="#1b7ad3" shape-rendering="crispEdges"/>
<g fill="#1b7ad3"><path d="M626 3h4v10h-4z M627 4v8h2v-8z" fill-rule="evenodd"/><rect x="628" y="7" width="5" height="2"/><path d="M632 4.6 L635.6 8 L632 11.4Z"/></g>
<text x="576.3" y="661.7" font-size="29" letter-spacing="3.2" fill="#7d6a5c" fill-opacity="0.62" transform="translate(1.1,1.3)">FX678</text>
<text x="576.3" y="661.7" font-size="29" letter-spacing="3.2" fill="#dbe7f6">FX678</text>
</svg>
<div id="side"><div class="act"></div><div class="dv" style="top:149px"></div>
<div class="sc" style="top:6.5px;color:#1f2a3c">分</div><div class="sc" style="top:20.5px;color:#1f2a3c">时</div><div class="sc" style="top:34.5px;color:#1f2a3c">图</div><div class="sc sf" style="top:55.5px;color:#fff">K</div><div class="sc" style="top:69.5px;color:#fff">线</div><div class="sc" style="top:83.5px;color:#fff">图</div><div class="sc" style="top:104.5px;color:#1f2a3c">闪</div><div class="sc" style="top:118.5px;color:#1f2a3c">电</div><div class="sc" style="top:132.5px;color:#1f2a3c">图</div><div class="sc" style="top:156.0px;color:#1f2a3c">合</div><div class="sc" style="top:170.5px;color:#1f2a3c">约</div><div class="sc" style="top:185.0px;color:#1f2a3c">资</div><div class="sc" style="top:199.0px;color:#1f2a3c">料</div>
</div>
<div id="title">美原油连续<b>【日线】</b></div>
<div id="period"><span>日线</span><i></i></div>
</body></html>
